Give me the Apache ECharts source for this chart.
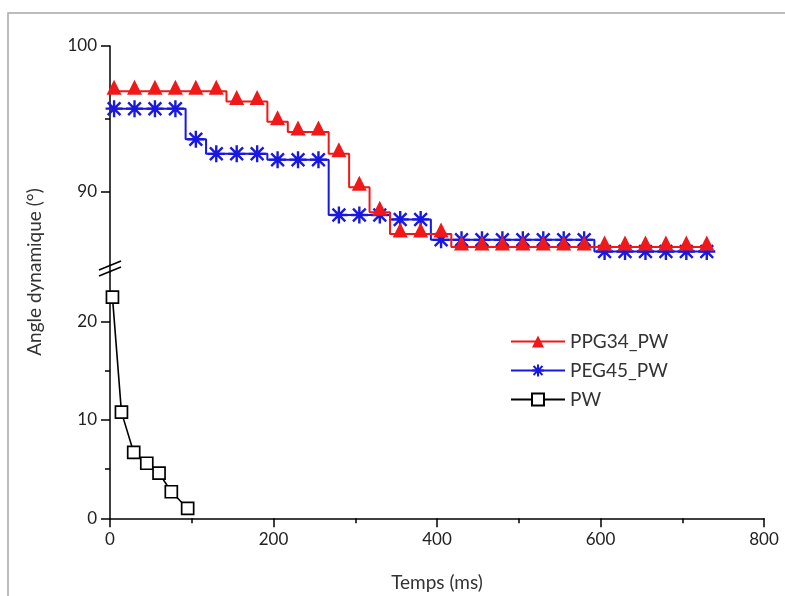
<!DOCTYPE html>
<html><head><meta charset="utf-8">
<script src="https://cdn.jsdelivr.net/npm/echarts@6/dist/echarts.min.js"></script>
<style>html,body{margin:0;padding:0;background:#fff}#c{width:785px;height:596px}</style>
</head><body><div id="c"></div>
<script>
// ---- data ----
const timeMs = [5,30,55,80,105,130,155,180,205,230,255,280,305,330,355,380,405,430,455,480,505,530,555,580,605,630,655,680,705,730];
const ppg34Angle = [96.9,96.9,96.9,96.9,96.9,96.9,96.2,96.2,94.8,94.1,94.1,92.6,90.3,88.6,87.1,87.1,87.1,86.2,86.2,86.2,86.2,86.2,86.2,86.2,86.2,86.2,86.2,86.2,86.2,86.2];
const peg45Angle = [95.7,95.7,95.7,95.7,93.6,92.6,92.6,92.6,92.2,92.2,92.2,88.4,88.4,88.4,88.1,88.1,86.7,86.7,86.7,86.7,86.7,86.7,86.7,86.7,85.9,85.9,85.9,85.9,85.9,85.9];
const pwTime = [3,14,29,45,60,75,95];
const pwAngle = [22.5,10.8,6.7,5.6,4.6,2.7,1.0];
const seriesNames = ['PPG34_PW','PEG45_PW','PW'];
const upperMajor = [90,100];
const upperMinor = [95];
const lowerMajor = [0,10,20];
const lowerMinor = [5,15];

const zip = (xs, ys) => xs.map((x, i) => [x, ys[i]]);
const FONT = 'Lato';
const AX = '#000';
const chart = echarts.init(document.getElementById('c'));

const tickLabel = {fontFamily: FONT, fontSize: 17, color: '#222'};
const starPath = 'path://M0,-10L0,10M-10,0L10,0M-7.5,-7.5L7.5,7.5M-7.5,7.5L7.5,-7.5';

function yAx(grid, min, max, major, minor) {
  return [{
    gridIndex: grid, type: 'value', min: min, max: max, position: 'left',
    axisLine: {show: true, lineStyle: {color: AX, width: 1.5}},
    axisTick: {show: true, customValues: major, length: 9, lineStyle: {color: AX, width: 1.5}},
    axisLabel: {customValues: major, margin: 13, ...tickLabel},
    splitLine: {show: false}
  }, {
    gridIndex: grid, type: 'value', min: min, max: max, position: 'left',
    axisLine: {show: false},
    axisTick: {show: true, customValues: minor, length: 5, lineStyle: {color: AX, width: 1.5}},
    axisLabel: {show: false},
    splitLine: {show: false}
  }];
}

const option = {
  animation: false,
  backgroundColor: '#fff',
  grid: [
    {left: 110, right: 21, top: 46, height: 218.6},
    {left: 110, right: 21, top: 272.5, height: 245.8}
  ],
  xAxis: [
    {gridIndex: 0, type: 'value', min: 0, max: 800, show: false},
    {gridIndex: 1, type: 'value', min: 0, max: 800, interval: 200,
      axisLine: {lineStyle: {color: AX, width: 1.5}},
      axisTick: {length: 9, lineStyle: {color: AX, width: 1.5}},
      minorTick: {show: true, splitNumber: 2, length: 5, lineStyle: {color: AX, width: 1.5}},
      splitLine: {show: false},
      axisLabel: {margin: 13, ...tickLabel},
      name: 'Temps (ms)', nameLocation: 'middle', nameGap: 55,
      nameTextStyle: {fontFamily: FONT, fontSize: 19, color: '#333'}
    }
  ],
  yAxis: [
    ...yAx(0, 85, 100, upperMajor, upperMinor),
    ...yAx(1, 0, 25, lowerMajor, lowerMinor)
  ],
  legend: {
    data: seriesNames, orient: 'vertical', left: 510, top: 332, padding: 0,
    itemWidth: 54, itemHeight: 15, itemGap: 10,
    textStyle: {fontFamily: FONT, fontSize: 19, color: '#333'}
  },
  series: [
    {name: seriesNames[1], type: 'line', xAxisIndex: 0, yAxisIndex: 0,
      data: zip(timeMs, peg45Angle), step: 'middle',
      symbol: starPath, symbolSize: 17, symbolKeepAspect: true,
      itemStyle: {color: '#1818e0', borderColor: '#1818e0', borderWidth: 2.4},
      lineStyle: {color: '#1818e0', width: 2}, z: 3},
    {name: seriesNames[0], type: 'line', xAxisIndex: 0, yAxisIndex: 0,
      data: zip(timeMs, ppg34Angle), step: 'middle',
      symbol: 'triangle', symbolSize: [15, 15], symbolOffset: [0, -4],
      itemStyle: {color: '#f01818'},
      lineStyle: {color: '#f01818', width: 2}, z: 4},
    {name: seriesNames[2], type: 'line', xAxisIndex: 1, yAxisIndex: 2,
      data: zip(pwTime, pwAngle),
      symbol: 'rect', symbolSize: 12,
      itemStyle: {color: '#fff', borderColor: '#000', borderWidth: 1.7},
      lineStyle: {color: '#000', width: 1.6}, z: 3}
  ]
};
chart.setOption(option);

// decorations: frame, y-axis title, axis break marks
const x0 = chart.convertToPixel({xAxisIndex: 1}, 0);
const yA = chart.convertToPixel({yAxisIndex: 0}, 85);
const yB = chart.convertToPixel({yAxisIndex: 2}, 25);
const cy = (yA + yB) / 2;
const brk = (dy) => ({type: 'line', shape: {x1: x0 - 11, y1: cy + dy + 4.5, x2: x0 + 11, y2: cy + dy - 4.5},
  style: {stroke: AX, lineWidth: 1.6}, z: 10});
chart.setOption({
  graphic: [
    {type: 'rect', shape: {x: 8, y: 13, width: 800, height: 620}, style: {fill: null, stroke: '#a8a8a8', lineWidth: 1.5}, z: -1},
    {type: 'text', x: 35, y: 272, rotation: Math.PI / 2,
      style: {text: 'Angle dynamique (°)', fontFamily: FONT, fontSize: 19, fill: '#333', align: 'center', verticalAlign: 'middle'}},
    {type: 'line', shape: {x1: x0, y1: yA, x2: x0, y2: yB}, style: {stroke: AX, lineWidth: 1.5}},
    brk(-3), brk(3)
  ]
});
</script></body></html>
